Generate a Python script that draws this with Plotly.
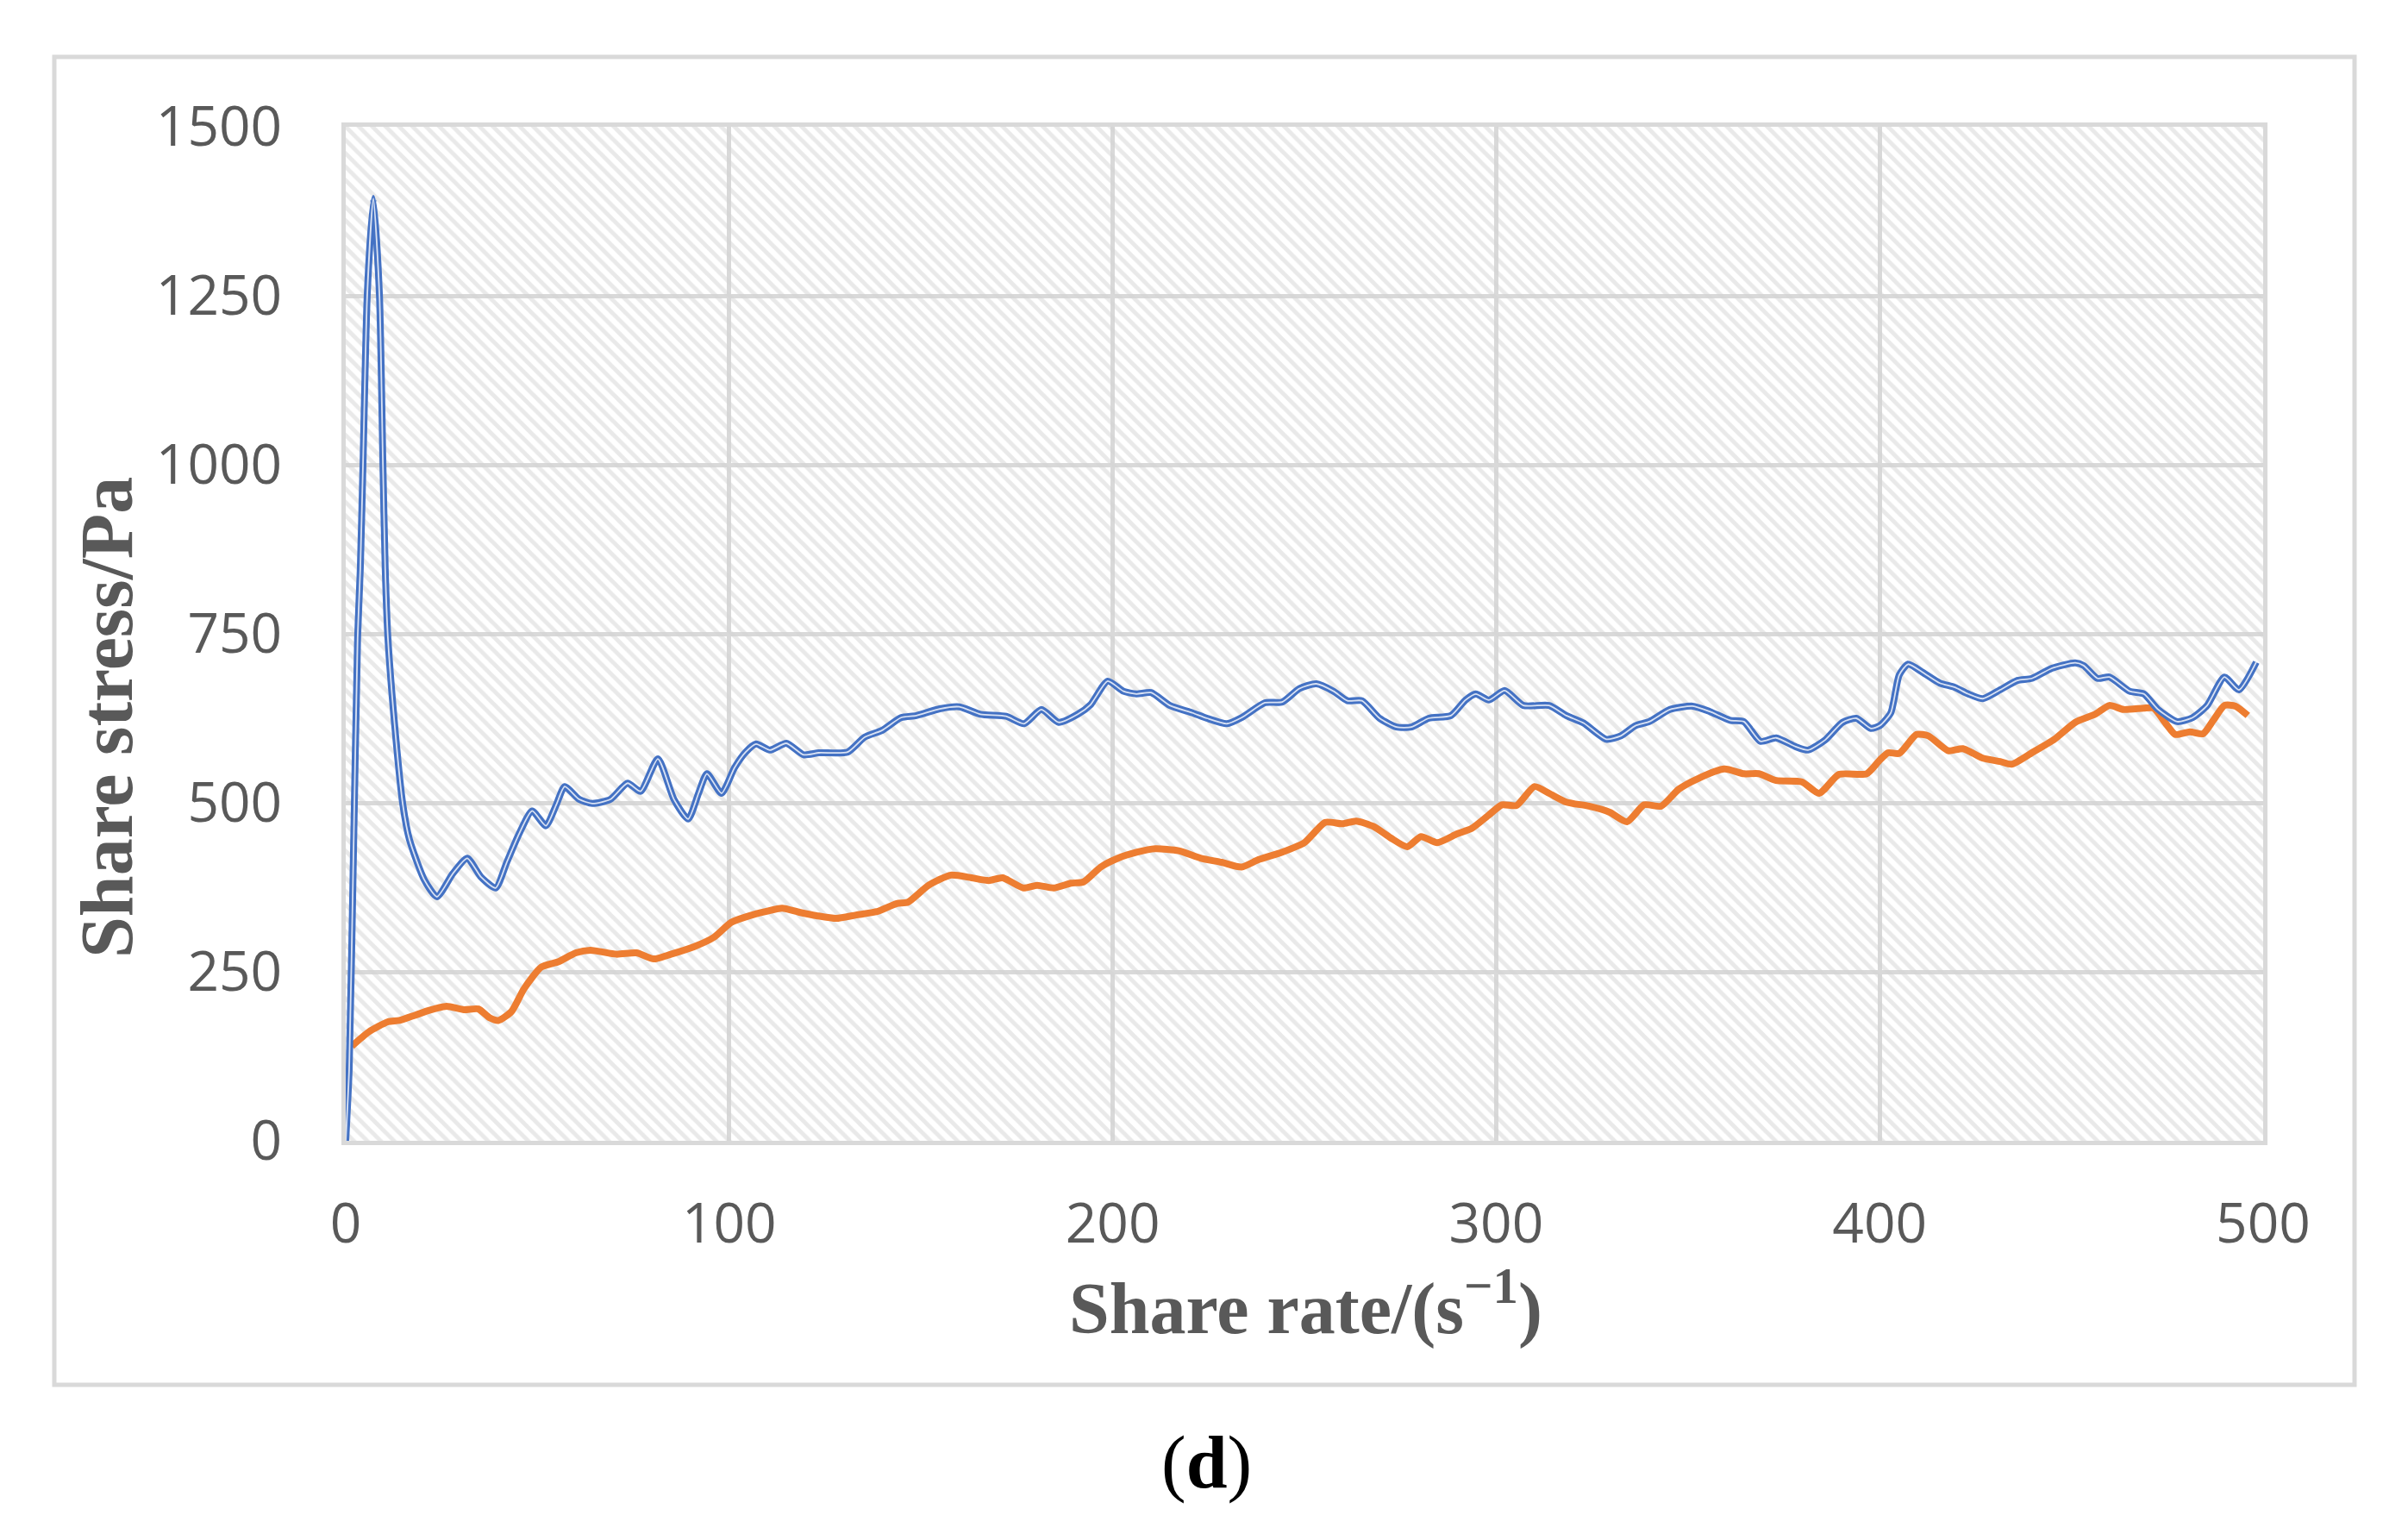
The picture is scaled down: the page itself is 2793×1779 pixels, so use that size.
import plotly.graph_objects as go

# ---------------- data ----------------
blue_x = [0, 0.9, 2, 3.1, 3.8, 4.5, 5.6, 7.2, 8.8, 9.7, 10.3, 11, 13, 14.9, 16.6, 20.5, 23.8,
          27.9, 31.7, 35.3, 39.1, 42, 45.2, 48.6, 52.2, 54.9, 57.1, 60.9, 64.3, 69, 73.5, 76.9,
          81.4, 85.6, 89.3, 92, 94.2, 98, 101.4, 104.3, 107, 110.6, 114.9, 119.4, 123.4, 130.9,
          135.3, 139.8, 144.8, 148.8, 154.9, 160, 165.5, 172.2, 176.9, 181.4, 185.9, 190.9, 194.2,
          198.7, 202.8, 206.2, 210, 214.9, 220.8, 224.6, 229.8, 233.6, 239.7, 244.2, 248.7, 253.1,
          257.6, 261.2, 265, 269.6, 274, 277.9, 282.4, 288.2, 292, 294.7, 298.1, 302.2, 307.1,
          313.8, 318.3, 322.8, 328.7, 332.5, 336.3, 339.9, 345.3, 351.2, 355.7, 361, 364.6, 368.9,
          373, 378.1, 381.3, 385.8, 390.3, 393.9, 397.7, 400, 402.9, 405.1, 407.4, 411.2, 415.7,
          419.5, 423.1, 426.9, 431.4, 435.9, 439.7, 444.9, 451, 453.2, 456.8, 459.9, 465.2, 468.9,
          472.6, 477.6, 481.6, 485.4, 489.9, 493.7, 498.2]
blue_y = [0, 106, 420, 744, 846, 1000, 1250, 1394, 1250, 1000, 846, 744, 600, 497, 446, 386, 361,
          395, 418, 390, 374, 412, 454, 488, 466, 497, 524, 505, 499, 505, 529, 517,
          565, 505, 476, 514, 543, 514, 552, 575, 587, 578, 588, 571, 574, 575,
          597, 607, 626, 629, 639, 642, 631, 628, 617, 638, 619, 631, 645,
          680, 665, 661, 663, 644, 633, 625, 617, 626, 648, 649, 669, 676,
          665, 651, 651, 625, 612, 612, 625, 629, 652, 661, 652, 666, 644,
          644, 629, 618, 594, 599, 614, 620, 638, 643, 635, 622, 620, 591,
          596, 583, 578, 593, 619, 625, 610, 614, 633, 689, 705, 693, 677,
          671, 661, 654, 667, 681, 684, 699, 707, 703, 684, 686, 665, 661,
          638, 620, 626, 644, 686, 667, 708]

orange_x = [1.6, 6, 11, 14, 18.2, 21.8, 26.3, 30.8, 34.6, 37.5, 39.8, 43.2, 46.5, 51, 55.5, 60,
            63.8, 70.6, 75.8, 80.3, 84.8, 90.8, 96, 100.5, 105.4, 109.5, 113.8, 118.3, 122.8,
            127.9, 133.1, 138.5, 143.7, 146.6, 152, 157.8, 163.2, 167.7, 171.3, 176.7, 180.3,
            184.6, 189.1, 192.4, 196.9, 201.4, 206.4, 211.1, 217.2, 223, 228.4, 233.6, 238.1,
            244.2, 250, 255.4, 259.9, 263.5, 268, 272.5, 276.8, 280.4, 284.6, 289.8, 293.6,
            298.1, 301.5, 305.3, 310, 313.8, 318.3, 324.2, 329.6, 334.1, 338.6, 343, 347.6,
            352.7, 359.5, 364.6, 368.5, 373, 379.7, 384.2, 389.4, 396.6, 400, 402.2, 405.1,
            409.6, 412.7, 417.9, 421.7, 426.9, 431.4, 434.4, 439.7, 445.6, 451, 456.2, 459.9,
            463.6, 468.9, 471.4, 474.8, 477.1, 480.9, 484.3, 487, 489.9, 492.8, 496]
orange_y = [140, 161, 176, 178, 186, 193, 199, 194, 195, 182, 178, 191, 225, 257, 265, 278,
            282, 276, 278, 269, 276, 287, 301, 323, 333, 339, 344, 338, 333,
            329, 334, 339, 351, 353, 378, 393, 389, 385, 389, 374, 378,
            374, 381, 383, 405, 418, 427, 432, 429, 418, 412, 405, 416,
            427, 441, 471, 469, 473, 465, 448, 435, 450, 441, 454, 462,
            482, 497, 496, 524, 514, 501, 495, 486, 472, 497, 495, 520,
            536, 550, 543, 543, 533, 531, 514, 542, 543, 563, 574, 573,
            601, 599, 577, 580, 566, 561, 557, 574, 594, 619, 631, 644,
            638, 640, 640, 616, 601, 605, 602, 622, 644, 643, 629]

x_ticks = [0, 100, 200, 300, 400, 500]
y_ticks = [0, 250, 500, 750, 1000, 1250, 1500]
x_range = [0, 500]
y_range = [0, 1500]

x_title = "Share rate/(s<sup>\u22121</sup>)"
y_title = "Share stress/Pa"
caption = "(<b>d</b>)"

# ---------------- styles ----------------
W, H = 2793, 1779
OFF = 8  # default page margin of the html body
L, R, T, B = 401, 2625, 147, 1323   # plot area in reference pixels
PW, PH = R - L, B - T
GRID = "#d9d9d9"
TXT = "#595959"
BLUE = "#4472C4"
ORANGE = "#ED7D31"


def px(xp):
    return (xp - L) / PW


def py(yp):
    return (B - yp) / PH


fig = go.Figure()

# hatched plot-area background
fig.add_trace(go.Scatter(
    x=[x_range[0], x_range[1], x_range[1], x_range[0], x_range[0]],
    y=[y_range[0], y_range[0], y_range[1], y_range[1], y_range[0]],
    mode="none", fill="toself", fillcolor="rgba(0,0,0,0)",
    fillpattern=dict(shape="\\", fgcolor="#d4d4d4", bgcolor="rgba(0,0,0,0)",
                     size=11, solidity=0.45),
    hoverinfo="skip", showlegend=False))

fig.add_trace(go.Scatter(x=orange_x, y=orange_y, mode="lines",
                         line=dict(color=ORANGE, width=8, shape="spline", smoothing=0.6),
                         showlegend=False))
fig.add_trace(go.Scatter(x=blue_x, y=blue_y, mode="lines",
                         line=dict(color=BLUE, width=8, shape="spline", smoothing=0.6),
                         showlegend=False))
fig.add_trace(go.Scatter(x=blue_x, y=blue_y, mode="lines",
                         line=dict(color="rgba(225,232,245,0.95)", width=1.8,
                                   shape="spline", smoothing=0.6),
                         hoverinfo="skip", showlegend=False))

axis_common = dict(showgrid=True, gridcolor=GRID, gridwidth=5, zeroline=False,
                   showline=True, mirror=True, linecolor=GRID, linewidth=5,
                   ticks="", automargin=False,
                   tickfont=dict(family="Open Sans", size=64, color=TXT))

fig.update_xaxes(range=x_range, tickvals=x_ticks, ticktext=[str(v) for v in x_ticks],
                 ticklabelstandoff=36, **axis_common)
fig.update_yaxes(range=y_range, tickvals=y_ticks, ticktext=[str(v) for v in y_ticks],
                 ticklabelstandoff=56, **axis_common)

fig.update_layout(
    width=W - OFF, height=H - OFF,
    margin=dict(l=L - OFF, r=W - R, t=T - OFF, b=H - B, pad=0),
    paper_bgcolor="white", plot_bgcolor="white",
    annotations=[
        dict(text=x_title, x=px(1514), y=py(1512), xref="paper", yref="paper",
             showarrow=False, xanchor="center", yanchor="middle",
             font=dict(family="Liberation Serif", size=84, color=TXT, weight="bold")),
        dict(text=y_title, x=px(124), y=py(832), xref="paper", yref="paper",
             showarrow=False, xanchor="center", yanchor="middle", textangle=-90,
             font=dict(family="Liberation Serif", size=86, color=TXT, weight="bold")),
        dict(text=caption, x=px(1399), y=py(1696), xref="paper", yref="paper",
             showarrow=False, xanchor="center", yanchor="middle",
             font=dict(family="Liberation Serif", size=86, color="black")),
    ],
    shapes=[dict(type="rect", xref="paper", yref="paper",
                 x0=px(63), x1=px(2731), y0=py(1606), y1=py(66),
                 line=dict(color=GRID, width=5), fillcolor="rgba(0,0,0,0)", layer="below")],
)

fig.write_html("out.html")
